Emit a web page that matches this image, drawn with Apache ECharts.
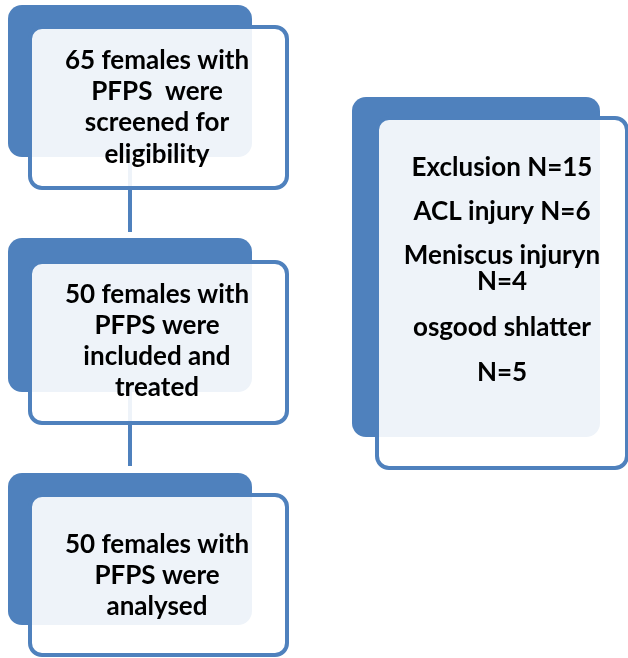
<!DOCTYPE html>
<html>
<head>
<meta charset="utf-8">
<script src="https://cdn.jsdelivr.net/npm/echarts@6/dist/echarts.min.js"></script>
<style>
html, body { margin: 0; padding: 0; background: #fff; }
#main { width: 628px; height: 658px; }
</style>
</head>
<body>
<div id="main"></div>
<script>
var myChart = echarts.init(document.getElementById('main'));

// box texts
var stepTexts = [
    ['65 females with', 'PFPS  were', 'screened for', 'eligibility'],
    ['50 females with', 'PFPS were', 'included and', 'treated'],
    ['50 females with', 'PFPS were', 'analysed']
];
var exclusionTexts = ['Exclusion N=15', 'ACL injury N=6', 'Meniscus injuryn', 'N=4', 'osgood shlatter', 'N=5'];

// layout (pixels)
var stepBoxes = [
    { back: [8, 5, 244, 152], front: [30, 27, 257, 161], textY: [61, 92, 123, 155] },
    { back: [8, 238, 244, 154], front: [30, 262, 257, 161], textY: [295, 326, 357, 388] },
    { back: [8, 473, 244, 152], front: [30, 495, 257, 160], textY: [545, 576, 607] }
];
var exclBox = { back: [352, 97, 248, 340], front: [377, 118, 250, 350], textY: [168, 212, 256, 282, 328, 373] };

var blue = '#4f81bd';
var font = 'Lato, "Open Sans", sans-serif';

function boxGraphics(b, texts, textX) {
    var els = [];
    els.push({
        type: 'rect', z: 1,
        shape: { x: b.back[0], y: b.back[1], width: b.back[2], height: b.back[3], r: 14 },
        style: { fill: blue }
    });
    els.push({
        type: 'rect', z: 3,
        shape: { x: b.front[0], y: b.front[1], width: b.front[2], height: b.front[3], r: 12 },
        style: { fill: 'rgba(255,255,255,0.9)', stroke: blue, lineWidth: 4 }
    });
    texts.forEach(function (t, i) {
        els.push({
            type: 'text', z: 4,
            x: textX, y: b.textY[i],
            style: {
                text: t, fill: '#000', font: 'bold 26px ' + font,
                textAlign: 'center', textVerticalAlign: 'middle'
            }
        });
    });
    return els;
}

var elements = [];
// connectors
elements.push({ type: 'line', z: 2, shape: { x1: 130, y1: 157, x2: 130, y2: 232 }, style: { stroke: blue, lineWidth: 4 } });
elements.push({ type: 'line', z: 2, shape: { x1: 130, y1: 392, x2: 130, y2: 466 }, style: { stroke: blue, lineWidth: 4 } });

stepBoxes.forEach(function (b, i) {
    elements = elements.concat(boxGraphics(b, stepTexts[i], 157));
});
elements = elements.concat(boxGraphics(exclBox, exclusionTexts, 502));

option = {
    backgroundColor: '#fff',
    graphic: elements
};
myChart.setOption(option);
</script>
</body>
</html>
